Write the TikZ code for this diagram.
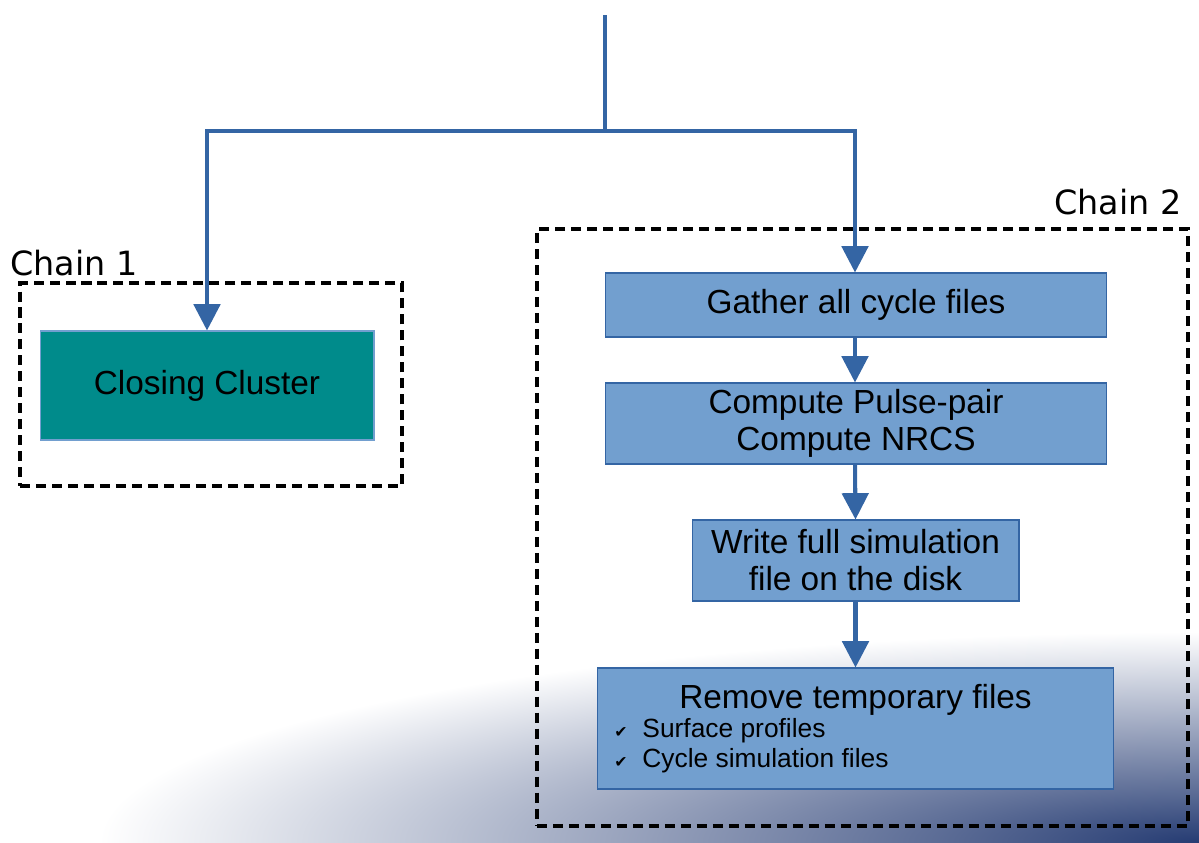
\documentclass[tikz,border=0pt]{standalone}
\usepackage{fontspec}
\setmainfont{Liberation Sans}
\newfontfamily\labelfont{DejaVu Sans}
\usetikzlibrary{arrows.meta}

\definecolor{flowblue}{RGB}{52,101,164}
\definecolor{boxblue}{RGB}{114,159,207}
\definecolor{clusterteal}{RGB}{0,139,139}
\definecolor{navyshade}{RGB}{38,60,115}

\pgfdeclareradialshading{cornerglow}{\pgfpoint{0bp}{0bp}}{%
  color(0bp)=(navyshade); color(6bp)=(navyshade!75!white);
  color(25bp)=(white); color(50bp)=(white)}

\newcommand{\chk}{{\labelfont\fontsize{9}{9}\selectfont ✔}}

\tikzset{
  stepbox/.style={draw=flowblue, line width=0.6pt, fill=boxblue, align=center,
    font=\fontsize{19}{21}\selectfont, inner sep=0pt},
  clusterbox/.style={draw=boxblue, line width=0.6pt, fill=clusterteal,
    font=\fontsize{19}{21}\selectfont, inner sep=0pt},
  chainbox/.style={draw=black, line width=2.3pt, dash pattern=on 5.7pt off 3.4pt,
    inner sep=0pt},
  chainlabel/.style={font=\labelfont\fontsize{19}{21}\selectfont, inner sep=0pt},
  link/.style={draw=flowblue, line width=2.3pt},
  flow/.style={link, -{Triangle[width=15pt,length=15pt]}}
}

\begin{document}
\begin{tikzpicture}[x=0.02cm, y=-0.02cm]
  \useasboundingbox (0,0) rectangle (1199,842);

  % shaded corner of the slide
  \begin{scope}
    \clip (0,0) rectangle (1199,842);
    \shade[shading=cornerglow] (99,632) rectangle (2299,1052);
  \end{scope}

  % the two chains
  \node[chainbox, minimum width=7.64cm, minimum height=4.06cm] (chainA) at (211,384.5) {};
  \node[chainbox, minimum width=13.02cm, minimum height=11.94cm] (chainB) at (862.5,527.5) {};
  \node[chainlabel, anchor=base west] (labA) at (10,275) {Chain 1};
  \node[chainlabel, anchor=base east] (labB) at (1182,214) {Chain 2};

  % chain 1
  \node[clusterbox, minimum width=6.68cm, minimum height=2.18cm] (closing) at (207,385.5) {Closing Cluster};

  % chain 2
  \node[stepbox, minimum width=10.04cm, minimum height=1.28cm] (gather) at (856,305) {Gather all cycle files};
  \node[stepbox, minimum width=10.04cm, minimum height=1.62cm] (pulse) at (856,423.5) {Compute Pulse-pair\\Compute NRCS};
  \node[stepbox, minimum width=6.54cm, minimum height=1.62cm] (write) at (855.5,560.5) {Write full simulation\\file on the disk};
  \node[stepbox, minimum width=10.34cm, minimum height=2.42cm] (remove) at (855.5,728.5) {%
    \begin{minipage}{10cm}
      \centering Remove temporary files\par
      \raggedright\fontsize{15}{16.6}\selectfont
      \hspace*{5pt}\makebox[16pt][l]{\chk}Surface profiles\par
      \hspace*{5pt}\makebox[16pt][l]{\chk}Cycle simulation files\par
    \end{minipage}};

  % connectors
  \coordinate (top) at (605,15);
  \coordinate (split) at (605,131);
  \draw[link] (top) -- (split);
  \draw[flow] (split) -| (closing.north);
  \draw[flow] (split) -| ([xshift=-0.02cm]gather.north);
  \draw[flow] ([xshift=-0.02cm]gather.south) -- ([xshift=-0.02cm]pulse.north);
  \draw[flow] ([xshift=-0.02cm]pulse.south) -- (write.north);
  \draw[flow] (write.south) -- (remove.north);
\end{tikzpicture}
\end{document}
